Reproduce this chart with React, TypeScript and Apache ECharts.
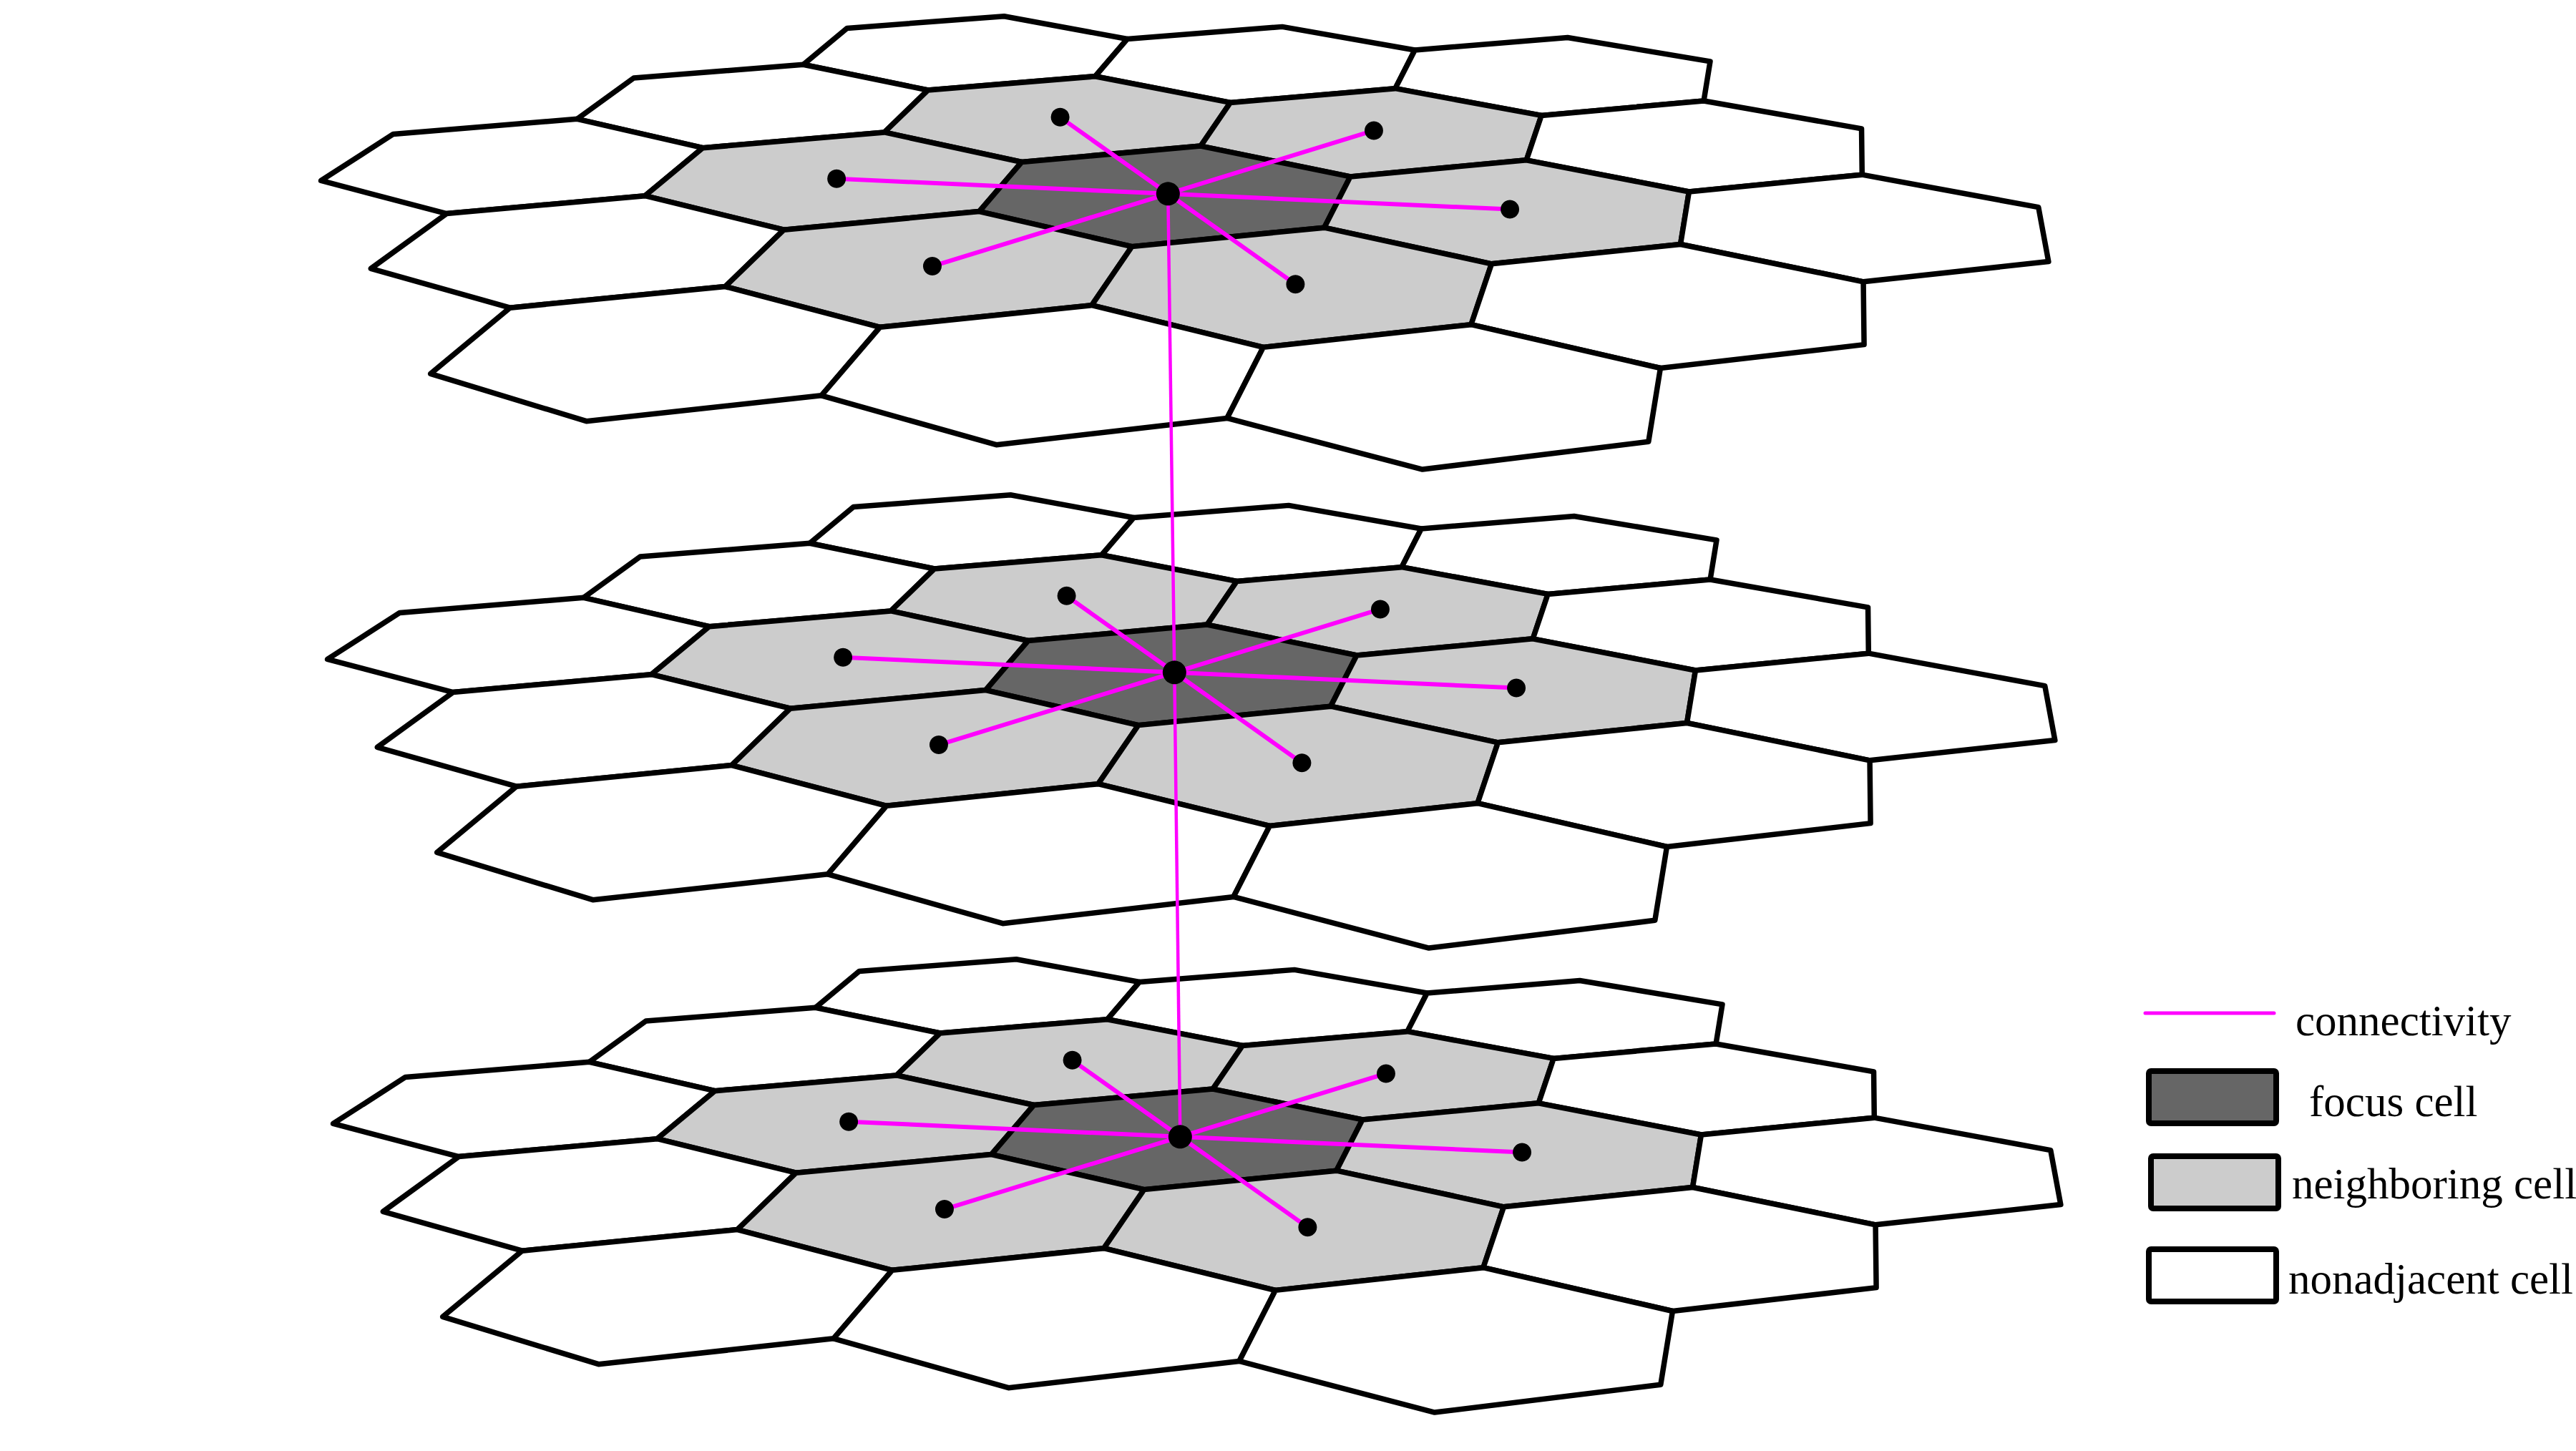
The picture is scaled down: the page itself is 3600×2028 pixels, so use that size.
import { useEffect, useRef } from 'react';
import * as echarts from 'echarts';

/* ───── Data: one hex patch (axial q, r), repeated on three stacked layers ───── */
const layers = ['upper layer', 'middle layer', 'lower layer'];
const cellQ = [0, 1, 2, -1, 0, 1, 2, -2, -1, 0, 1, 2, -2, -1, 0, 1, -2, -1, 0];
const cellR = [-2, -2, -2, -1, -1, -1, -1, 0, 0, 0, 0, 0, 1, 1, 1, 1, 2, 2, 2];
const cellKind = [
  'nonadjacent', 'nonadjacent', 'nonadjacent',
  'nonadjacent', 'neighboring', 'neighboring', 'nonadjacent',
  'nonadjacent', 'neighboring', 'focus', 'neighboring', 'nonadjacent',
  'nonadjacent', 'neighboring', 'neighboring', 'nonadjacent',
  'nonadjacent', 'nonadjacent', 'nonadjacent',
];
const legendLabels = ['connectivity', 'focus cell', 'neighboring cell', 'nonadjacent cell'];

/* ───── Page / projection setup ───── */
const W = 3600;
const H = 2028;
const SQ3 = Math.sqrt(3);
const FILL: Record<string, string> = { focus: '#666666', neighboring: '#cccccc', nonadjacent: '#ffffff' };
const MAGENTA = '#ff00ff';

// plane point (hex radius = 1, y down) -> pixel of the upper layer, used to fit the perspective
const CALIB: [number, number, number, number][] = [
  [-4.330, 0.5, 449, 254], [-4.330, -0.5, 553, 186], [-3.464, -1, 806, 165],
  [-2.598, -0.5, 981, 207], [-2.598, 0.5, 901, 273], [-3.464, 1, 623, 298],
  [3.464, -1, 2603, 245], [4.330, -0.5, 2847, 288], [4.330, 0.5, 2861, 366],
  [3.464, 1, 2605, 395], [2.598, 0.5, 2350, 340], [2.598, -0.5, 2360, 269],
  [-2.598, -3.5, 1183, 39], [-1.732, -4, 1403, 24], [-0.866, -3.5, 1577, 54],
  [-0.866, -2.5, 1531, 106], [-1.732, -2, 1297, 127], [-2.598, -2.5, 1123, 90],
  [1.732, -4, 2192, 54], [2.598, -3.5, 2391, 85], [2.598, -2.5, 2381, 139],
  [0, -4, 1790, 37],
  [0.866, 2.5, 1765, 486], [1.732, 2, 2055, 453], [2.598, 2.5, 2321, 516],
  [2.598, 3.5, 2304, 618], [1.732, 4, 1989, 655], [0.866, 3.5, 1715, 583],
  [-2.598, 2.5, 712, 431], [-1.732, 2, 1013, 401], [-0.866, 2.5, 1228, 460],
  [-0.866, 3.5, 1150, 553], [-1.732, 4, 818, 588], [-2.598, 3.5, 602, 522],
  [0, 4, 1394, 620],
  [0, -1, 1677, 204], [0.866, -0.5, 1887, 249], [0.866, 0.5, 1852, 317],
  [0, 1, 1581, 345], [-0.866, 0.5, 1369, 295], [-0.866, -0.5, 1427, 228],
];
const LAYER_SHIFT = [[0, 0], [9, 669], [17, 1318]];

/* ───── Least-squares homography ───── */
function fitHomography(pts: [number, number, number, number][]) {
  const N = 8;
  const S = 1000;
  const M = Array.from({ length: N }, () => new Array(N + 1).fill(0));
  for (const [x, y, X0, Y0] of pts) {
    const X = X0 / S, Y = Y0 / S;
    const rows = [
      [x, y, 1, 0, 0, 0, -x * X, -y * X, X],
      [0, 0, 0, x, y, 1, -x * Y, -y * Y, Y],
    ];
    for (const r of rows) for (let i = 0; i < N; i++) for (let j = 0; j <= N; j++) M[i][j] += r[i] * r[j];
  }
  for (let c = 0; c < N; c++) {
    let p = c;
    for (let i = c + 1; i < N; i++) if (Math.abs(M[i][c]) > Math.abs(M[p][c])) p = i;
    [M[c], M[p]] = [M[p], M[c]];
    for (let i = 0; i < N; i++) {
      if (i === c) continue;
      const f = M[i][c] / M[c][c];
      for (let j = c; j <= N; j++) M[i][j] -= f * M[c][j];
    }
  }
  const h = M.map((row, i) => row[N] / row[i]);
  return (x: number, y: number): [number, number] => {
    const w = h[6] * x + h[7] * y + 1;
    return [S * (h[0] * x + h[1] * y + h[2]) / w, S * (h[3] * x + h[4] * y + h[5]) / w];
  };
}

const project = fitHomography(CALIB);
const hexCenter = (i: number): [number, number] => [SQ3 * (cellQ[i] + cellR[i] / 2), 1.5 * cellR[i]];
const toScreen = (l: number, x: number, y: number): [number, number] => {
  const [X, Y] = project(x, y);
  return [X + LAYER_SHIFT[l][0], Y + LAYER_SHIFT[l][1]];
};
const FOCUS = cellKind.indexOf('focus');

function buildOption(): echarts.EChartsOption {
  const cellData = layers.flatMap((_, l) => cellQ.map((_, i) => [l, i]));
  const linkData = layers.flatMap((_, l) =>
    cellKind.map((k, i) => (k === 'neighboring' ? [l, i] : null)).filter((d): d is number[] => d != null));
  const stackData = layers.slice(1).map((_, l) => [l, l + 1]);
  const dotData = layers.flatMap((_, l) =>
    cellKind.map((k, i) => (k === 'nonadjacent' ? null : {
      value: toScreen(l, ...hexCenter(i)),
      symbolSize: k === 'focus' ? 33 : 26,
    })).filter((d) => d != null));

  return {
    animation: false,
    backgroundColor: '#ffffff',
    grid: { left: 0, right: 0, top: 0, bottom: 0 },
    xAxis: { type: 'value', min: 0, max: W, show: false },
    yAxis: { type: 'value', min: 0, max: H, inverse: true, show: false },
    tooltip: { show: false },
    series: [
      {
        type: 'custom', name: 'cells', silent: true, z: 1,
        data: cellData,
        renderItem: (_p: any, api: any) => {
          const l = api.value(0) as number;
          const i = api.value(1) as number;
          const [cx, cy] = hexCenter(i);
          const points = [0, 1, 2, 3, 4, 5].map((k) => {
            const a = ((-90 + 60 * k) * Math.PI) / 180;
            return api.coord(toScreen(l, cx + Math.cos(a), cy + Math.sin(a)));
          });
          return {
            type: 'polygon', shape: { points },
            style: { fill: FILL[cellKind[i]], stroke: '#000000', lineWidth: 7.5, lineJoin: 'round' },
          };
        },
      },
      {
        type: 'custom', name: 'connectivity', silent: true, z: 2,
        data: linkData,
        renderItem: (_p: any, api: any) => {
          const l = api.value(0) as number;
          const i = api.value(1) as number;
          const a = api.coord(toScreen(l, ...hexCenter(FOCUS)));
          const b = api.coord(toScreen(l, ...hexCenter(i)));
          return {
            type: 'line', shape: { x1: a[0], y1: a[1], x2: b[0], y2: b[1] },
            style: { stroke: MAGENTA, lineWidth: 6 },
          };
        },
      },
      {
        type: 'custom', name: 'between layers', silent: true, z: 2,
        data: stackData,
        renderItem: (_p: any, api: any) => {
          const a = api.coord(toScreen(api.value(0), ...hexCenter(FOCUS)));
          const b = api.coord(toScreen(api.value(1), ...hexCenter(FOCUS)));
          return {
            type: 'line', shape: { x1: a[0], y1: a[1], x2: b[0], y2: b[1] },
            style: { stroke: MAGENTA, lineWidth: 4.5 },
          };
        },
      },
      {
        type: 'scatter', name: 'centres', silent: true, z: 3,
        symbol: 'circle', itemStyle: { color: '#000000', opacity: 1 },
        data: dotData as any,
      },
    ],
    graphic: [
      {
        type: 'line', shape: { x1: 2998, y1: 1416, x2: 3178, y2: 1416 },
        style: { stroke: MAGENTA, lineWidth: 5, lineCap: 'round' },
      },
      { type: 'rect', shape: { x: 3003, y: 1497, width: 178, height: 73, r: 3 }, style: { fill: FILL.focus, stroke: '#000', lineWidth: 8 } },
      { type: 'rect', shape: { x: 3006, y: 1616, width: 178, height: 73, r: 3 }, style: { fill: FILL.neighboring, stroke: '#000', lineWidth: 8 } },
      { type: 'rect', shape: { x: 3003, y: 1746, width: 178, height: 73, r: 3 }, style: { fill: FILL.nonadjacent, stroke: '#000', lineWidth: 8 } },
      ...legendLabels.map((t, k) => ({
        type: 'text' as const,
        x: [3208, 3227, 3203, 3198][k],
        y: [1426, 1539, 1654, 1787][k],
        style: {
          text: t, fill: '#000000', fontSize: 61, fontFamily: '"Liberation Serif", "Times New Roman", serif',
          align: 'left' as const, verticalAlign: 'middle' as const,
        },
      })),
    ],
  };
}

export default function App() {
  const ref = useRef<HTMLDivElement>(null);
  useEffect(() => {
    if (!ref.current) return;
    const chart = echarts.init(ref.current, null, { renderer: 'svg' });
    chart.setOption(buildOption());
    return () => { chart.dispose(); };
  }, []);
  return <div ref={ref} style={{ position: 'absolute', left: 0, top: 0, width: W, height: H, background: '#fff' }} />;
}
